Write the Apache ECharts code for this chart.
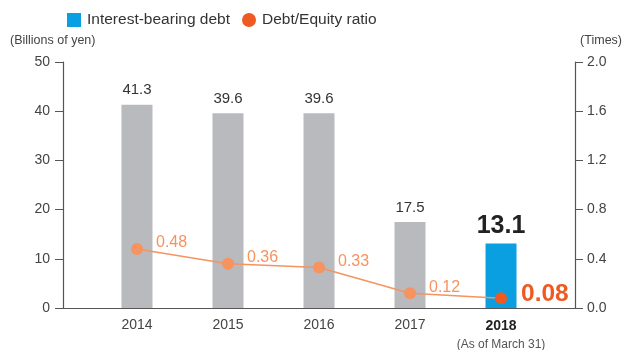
<!DOCTYPE html>
<html>
<head>
<meta charset="utf-8">
<script src="https://cdn.jsdelivr.net/npm/echarts@6/dist/echarts.min.js"></script>
<style>
  html, body { margin: 0; padding: 0; background: #fff; }
  #chart { width: 624px; height: 350px; }
</style>
</head>
<body>
<div id="chart"></div>
<script>
// Fiscal years (as of March 31)
const years = ['2014', '2015', '2016', '2017', '2018'];
// Interest-bearing debt, billions of yen
const debt = [41.3, 39.6, 39.6, 17.5, 13.1];
// Debt/Equity ratio, times
const deRatio = [0.48, 0.36, 0.33, 0.12, 0.08];

const FONT = '"Liberation Sans", Arial, sans-serif';
const GREY = '#b9babd';
const BLUE = '#0a9fe0';
const ORANGE_LIGHT = '#f6935f';
const ORANGE = '#ee5a22';
const AXIS = '#555';
const last = years.length - 1;

const barData = debt.map((v, i) => {
  const item = { value: [i, v], itemStyle: { color: i === last ? BLUE : GREY } };
  if (i === last) {
    item.label = { fontSize: 25, fontWeight: 'bold', color: '#222', distance: 5 };
  }
  return item;
});

const lineData = deRatio.map((v, i) => {
  const item = { value: [i, v] };
  if (i === last) {
    item.itemStyle = { color: ORANGE };
    item.label = { fontSize: 24.5, fontWeight: 'bold', color: ORANGE,
      offset: [0, -4], distance: 14 };
  }
  return item;
});

const chart = echarts.init(document.getElementById('chart'), null, { renderer: 'canvas' });
chart.setOption({
  animation: false,
  textStyle: { fontFamily: FONT },
  title: [
    { text: '(Billions of yen)', left: 10, top: 34, padding: 0,
      textStyle: { fontSize: 12.5, fontWeight: 'normal', color: '#444', fontFamily: FONT } },
    { text: '(Times)', right: 2, top: 34, padding: 0,
      textStyle: { fontSize: 12.5, fontWeight: 'normal', color: '#444', fontFamily: FONT } }
  ],
  legend: {
    left: 62, top: 7,
    itemWidth: 14, itemHeight: 14, itemGap: 12,
    textStyle: { fontSize: 15.5, color: '#333', fontFamily: FONT, padding: [0, 0, 0, 1] },
    data: [
      { name: 'Interest-bearing debt', icon: 'rect', itemStyle: { color: BLUE } },
      { name: 'Debt/Equity ratio', icon: 'circle', itemStyle: { color: ORANGE } }
    ]
  },
  grid: { left: 63, right: 49, top: 62, bottom: 42, outerBoundsMode: 'none', containLabel: false },
  xAxis: {
    type: 'value',
    min: -0.813, max: last + 0.813,
    splitLine: { show: false },
    axisLine: { show: true, onZero: false, lineStyle: { color: AXIS, width: 1.2 } },
    axisTick: { show: false },
    axisLabel: {
      customValues: years.map((_, i) => i),
      margin: 10,
      fontSize: 14, color: '#444', fontFamily: FONT,
      formatter: v => {
        const i = Math.round(v);
        return i === last ? '{b|' + years[i] + '}\n{s|(As of March 31)}' : years[i];
      },
      rich: {
        b: { fontSize: 14, fontWeight: 'bold', color: '#222', fontFamily: FONT, lineHeight: 16 },
        s: { fontSize: 12, color: '#555', fontFamily: FONT, lineHeight: 22 }
      }
    }
  },
  yAxis: [
    {
      type: 'value', min: 0, max: 50, interval: 10,
      axisLine: { show: true, onZero: false, lineStyle: { color: AXIS, width: 1.2 } },
      axisTick: { show: true, length: 8, lineStyle: { color: AXIS } },
      axisLabel: { fontSize: 14, color: '#444', margin: 13, fontFamily: FONT },
      splitLine: { show: false }
    },
    {
      type: 'value', min: 0, max: 2, interval: 0.4, position: 'right',
      axisLine: { show: true, onZero: false, lineStyle: { color: AXIS, width: 1.2 } },
      axisTick: { show: true, length: 8, lineStyle: { color: AXIS } },
      axisLabel: { fontSize: 14, color: '#444', margin: 12, fontFamily: FONT,
        formatter: v => v.toFixed(1) },
      splitLine: { show: false }
    }
  ],
  series: [
    {
      name: 'Interest-bearing debt',
      type: 'bar',
      yAxisIndex: 0,
      barWidth: 31,
      data: barData,
      label: {
        show: true, position: 'top', distance: 7,
        fontSize: 15, color: '#333', fontFamily: FONT,
        formatter: p => p.value[1].toFixed(1)
      }
    },
    {
      name: 'Debt/Equity ratio',
      type: 'line',
      yAxisIndex: 1,
      data: lineData,
      symbol: 'circle', symbolSize: 12,
      lineStyle: { color: ORANGE_LIGHT, width: 1.5 },
      itemStyle: { color: ORANGE_LIGHT },
      label: {
        show: true, position: 'right', distance: 13, offset: [0, -6],
        fontSize: 16, color: ORANGE_LIGHT, fontFamily: FONT,
        formatter: p => p.value[1].toFixed(2)
      },
      z: 5
    }
  ]
});
</script>
</body>
</html>
